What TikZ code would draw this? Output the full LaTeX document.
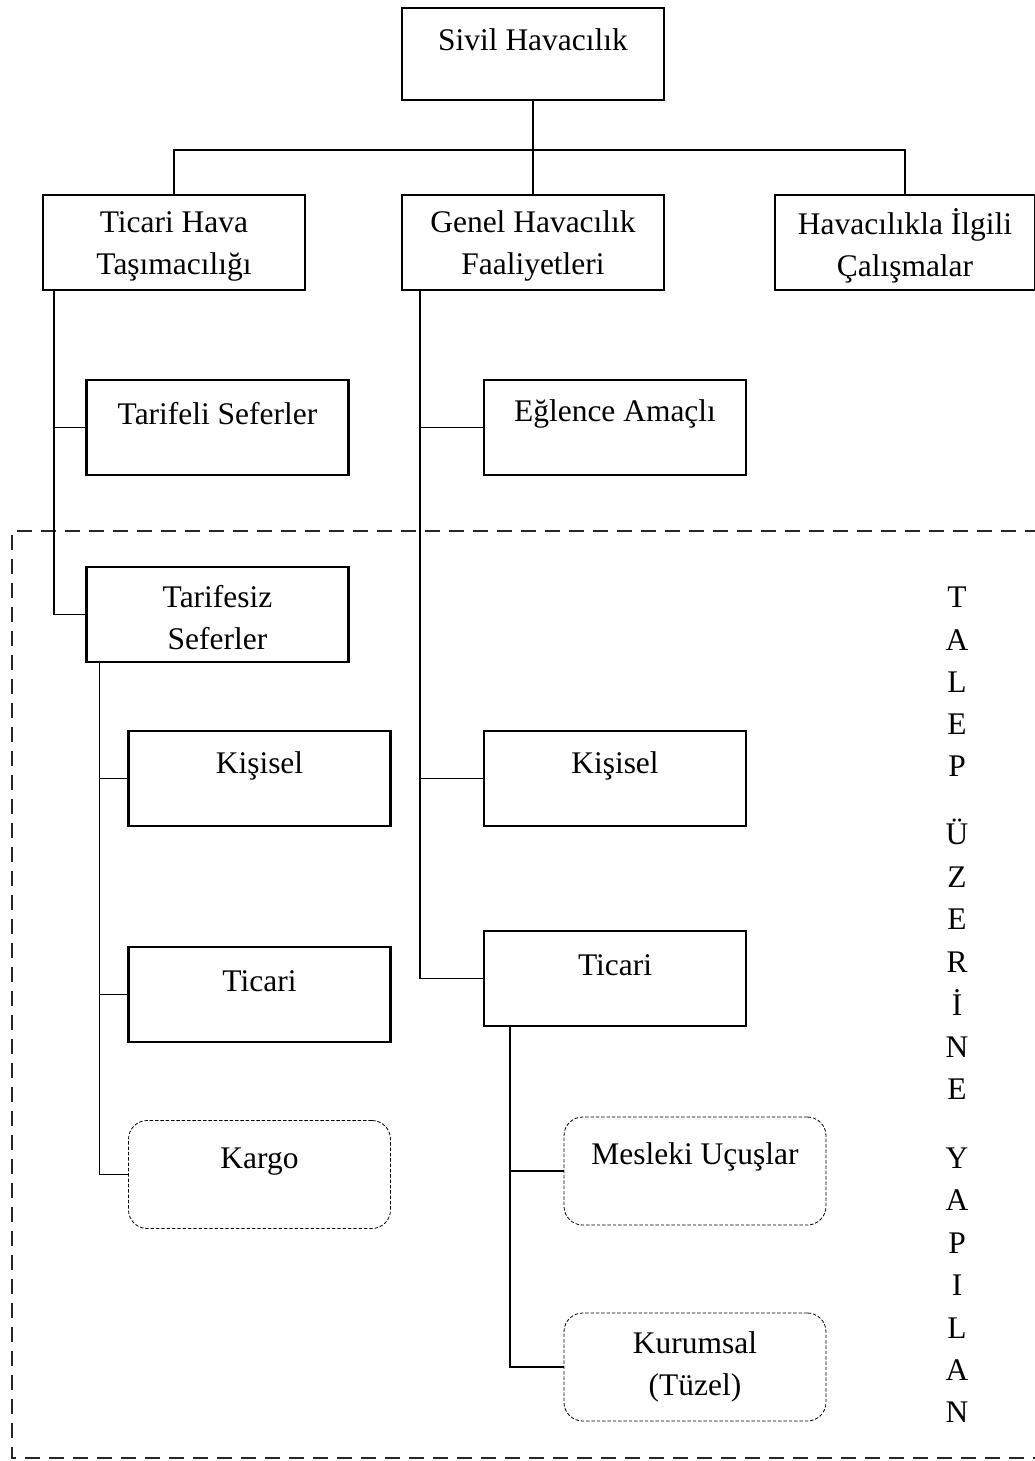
\documentclass[tikz,border=0pt]{standalone}
\usepackage{fontspec}
\setmainfont{Liberation Serif}
\begin{document}
\begin{tikzpicture}[x=0.75pt,y=-0.75pt,
  every node/.style={font=\fontsize{23.6}{31.5}\selectfont},
  box/.style={draw,line width=1.6pt,minimum width=196.5pt,minimum height=71pt,inner sep=0pt},
  softbox/.style={draw,line width=0.6pt,dash pattern=on 2.6pt off 1.4pt,rounded corners=14pt,
    minimum width=196.5pt,minimum height=81pt,inner sep=0pt},
  txt/.style={align=center,inner sep=0pt},
  link/.style={line width=1.1pt},
  letter/.style={inner sep=0pt,anchor=center,text height=15.6pt,text depth=0pt}]
\useasboundingbox (0,0) rectangle (1035,1461);

% zone of services provided on demand
\draw[line width=1.1pt,dash pattern=on 11pt off 7pt,black!85]
  (1040,531) -- (12,531) -- (12,1458) -- (1040,1458);

% top level
\node[box,minimum height=69pt] (sivil) at (533,54) {};
\node[txt] at (533,40) {Sivil Havacılık};

% second level
\node[box] (ticari) at (174,242.5) {};
\node[txt] at (174,246) {Ticari Hava\\Taşımacılığı};
\node[box] (genel) at (533,242.5) {};
\node[txt] at (533,246) {Genel Havacılık\\Faaliyetleri};
\node[box,minimum width=195pt] (ilgili) at (905,242.5) {};
\node[txt] at (905,246) {Havacılıkla İlgili\\Çalışmalar};

\coordinate (bus) at (0,150);
\draw[link] (sivil.south) -- (sivil.south |- bus);
\draw[link] (ticari.north) -- (ticari.north |- bus) -- (ilgili.north |- bus) -- (ilgili.north);
\draw[link] (genel.north) -- (genel.north |- bus);

% commercial air transport
\node[box] (tarifeli) at (217.5,427.5) {};
\node[txt] at (217.5,414) {Tarifeli Seferler};
\node[box] (tarifesiz) at (217.5,614.5) {};
\node[txt] at (217.5,618) {Tarifesiz\\Seferler};

\draw[link] (ticari.south west) ++(12,0) coordinate (t1) |- (tarifesiz.west);
\draw[link] (t1 |- tarifeli.west) -- (tarifeli.west);

% non-scheduled flights
\node[box] (kisA) at (259.5,778.5) {};
\node[txt] at (259.5,766) {Kişisel};
\node[box] (ticA) at (259.5,994.5) {};
\node[txt] at (259.5,981) {Ticari};
\node[softbox] (kargo) at (259.5,1174.5) {};
\node[txt] at (259.5,1162) {Kargo};

\draw[link] (tarifesiz.south west) ++(14,0) coordinate (t2) |- (kargo.west);
\draw[link] (t2 |- kisA.west) -- (kisA.west);
\draw[link] (t2 |- ticA.west) -- (ticA.west);

% general aviation
\node[box] (eglence) at (615,427.5) {};
\node[txt] at (615,414) {Eğlence Amaçlı};
\node[box] (kisB) at (615,778.5) {};
\node[txt] at (615,766) {Kişisel};
\node[box] (ticB) at (615,978.5) {};
\node[txt] at (615,965) {Ticari};

\draw[link] (genel.south west) ++(19,0) coordinate (g1) |- (ticB.west);
\draw[link] (g1 |- eglence.west) -- (eglence.west);
\draw[link] (g1 |- kisB.west) -- (kisB.west);

% commercial general aviation
\node[softbox] (mesleki) at (695,1171) {};
\node[txt] at (695,1157) {Mesleki Uçuşlar};
\node[softbox] (kurumsal) at (695,1367) {};
\node[txt] at (695,1367) {Kurumsal\\(Tüzel)};

\draw[link] (ticB.south west) ++(27,0) coordinate (g2) |- (kurumsal.west);
\draw[link] (g2 |- mesleki.west) -- (mesleki.west);

% vertical caption
\foreach \ch/\yy in {T/597,A/640,L/682,E/724,P/766,
                     Ü/834,Z/877,E/919,R/962,İ/1005,N/1047,E/1089,
                     Y/1158,A/1200,P/1243,I/1285,L/1328,A/1370,N/1412}
  \node[letter] at (957,\yy) {\ch};
\end{tikzpicture}
\end{document}
